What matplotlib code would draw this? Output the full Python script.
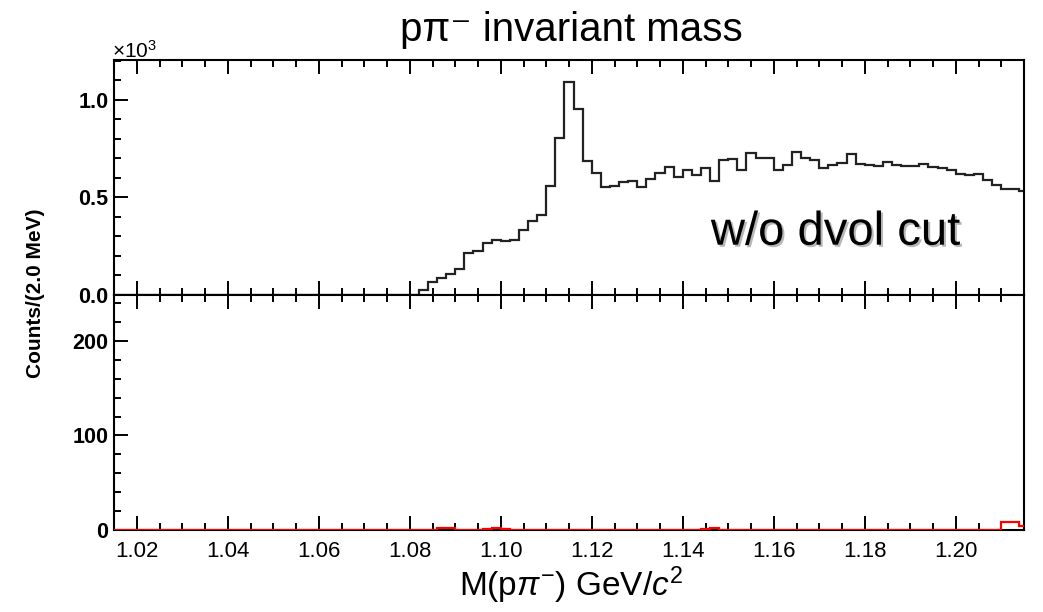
import numpy as np
import matplotlib.pyplot as plt
from matplotlib.ticker import MultipleLocator, FormatStrFormatter
import matplotlib.patheffects as pe

plt.rcParams['font.family'] = ['Liberation Sans', 'DejaVu Sans']
plt.rcParams['mathtext.fontset'] = 'custom'
plt.rcParams['mathtext.rm'] = 'Liberation Sans'
plt.rcParams['mathtext.it'] = 'Liberation Sans:italic'
plt.rcParams['mathtext.bf'] = 'Liberation Sans:bold'

# binning: 2 MeV bins, first bin starts at 1.014 GeV
bin_start = 1.014
bin_width = 0.002

# counts per bin, p pi- mass, no dvol cut (bins 1.014 ... 1.214)
counts_all = [0] * 34 + [
    24, 64, 84, 106, 130, 212, 224, 267, 281, 277,
    281, 332, 380, 409, 560, 803, 1094, 952, 688, 627,
    555, 558, 579, 585, 555, 594, 623, 654, 606,
    640, 612, 650, 585, 690, 695, 640, 725, 700, 700,
    640, 668, 735, 700, 690, 650, 665, 675, 720, 670,
    665, 660, 680, 668, 660, 660, 670, 655, 650, 640,
    620, 615, 620, 590, 565, 545, 545, 530,
]

# lower panel (red), mostly empty
counts_cut = [0] * 101
for m, c in [(1.086, 2), (1.088, 2), (1.096, 1), (1.098, 2), (1.100, 1),
             (1.144, 1), (1.146, 2), (1.210, 8), (1.212, 8), (1.214, 4)]:
    counts_cut[int(round((m - bin_start) / bin_width))] = c

edges = bin_start + bin_width * np.arange(len(counts_all) + 1)

fig = plt.figure(figsize=(10.43, 6.12), dpi=100)
ax1 = fig.add_axes([0.1093, 0.5185, 0.8725, 0.3835])
ax2 = fig.add_axes([0.1093, 0.134, 0.8725, 0.3845])

ax1.stairs(np.array(counts_all) / 1000.0, edges, color='#222222', lw=1.6, baseline=None)
ax2.stairs(counts_cut, edges, color='red', lw=1.6, baseline=None, zorder=5)

for ax in (ax1, ax2):
    ax.set_xlim(1.015, 1.215)
    ax.xaxis.set_major_locator(MultipleLocator(0.02))
    ax.xaxis.set_minor_locator(MultipleLocator(0.005))
    ax.tick_params(which='both', direction='in', top=True, bottom=True,
                   left=True, right=False, width=1.4)
    ax.tick_params(which='major', length=10)
    ax.tick_params(which='minor', length=5)
    for s in ax.spines.values():
        s.set_linewidth(1.5)

ax1.set_ylim(0, 1.205)
ax1.yaxis.set_major_locator(MultipleLocator(0.5))
ax1.yaxis.set_minor_locator(MultipleLocator(0.1))
ax1.yaxis.set_major_formatter(FormatStrFormatter('%.1f'))
ax1.tick_params(axis='x', labelbottom=False)

ax2.set_ylim(0, 249)
ax2.yaxis.set_major_locator(MultipleLocator(100))
ax2.yaxis.set_minor_locator(MultipleLocator(20))
ax2.xaxis.set_major_formatter(FormatStrFormatter('%.2f'))
ax2.tick_params(axis='x', labelsize=16, pad=8)

for ax in (ax1, ax2):
    ax.tick_params(axis='y', labelsize=15.5, pad=4)
    for lab in ax.get_yticklabels():
        lab.set_fontweight('bold')

fig.text(0.548, 1 - 30 / 612, 'p\u03c0\u207b invariant mass', ha='center', va='center', fontsize=29)
fig.text(112 / 1043, 1 - 58 / 612, '\u00d710$^{3}$', ha='left', va='baseline', fontsize=15)
fig.text(36 / 1043, 1 - 293 / 612, 'Counts/(2.0 MeV)', rotation=90, ha='center', va='center',
         fontsize=15, fontweight='bold')
fig.text(0.548, 1 - 585 / 612, r'M(p$\pi^{-}$) GeV/$c^{2}$', ha='center', va='center', fontsize=24)
ax1.text(0.793, 0.213, 'w/o dvol cut', transform=ax1.transAxes, ha='center', va='baseline',
         fontsize=34, path_effects=[pe.withSimplePatchShadow(offset=(1.5, -1.5), shadow_rgbFace='#888888', alpha=0.6)])

fig.savefig('out.png', dpi=100)
